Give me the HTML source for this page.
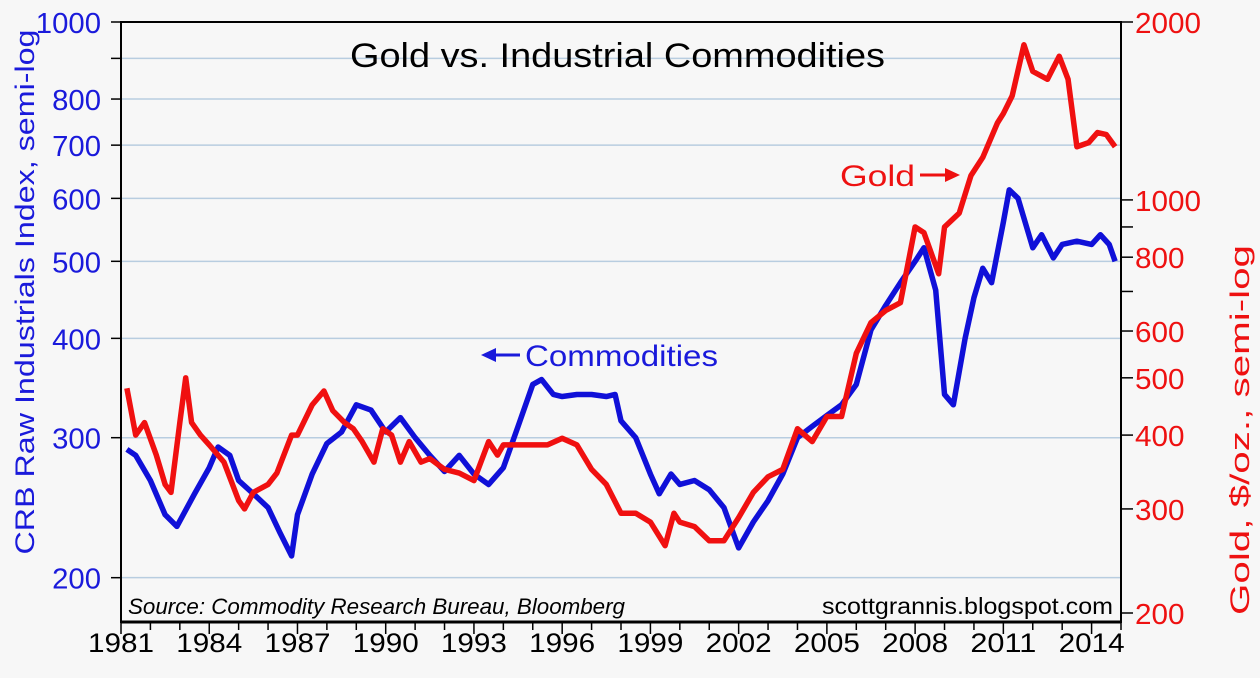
<!DOCTYPE html>
<html><head><meta charset="utf-8"><style>
html,body{margin:0;padding:0;background:#f7f7f7;}
svg{display:block;font-family:"Liberation Sans",sans-serif;}
</style></head><body>
<svg id="chart" width="1260" height="678" viewBox="0 0 1260 678">
<rect x="0" y="0" width="1260" height="678" fill="#f7f7f7"/>
<g id="grid"></g>
<g id="axes"></g>
<g id="series"></g>
<text x="350" y="67" font-size="34" textLength="535" lengthAdjust="spacingAndGlyphs" fill="#000">Gold vs. Industrial Commodities</text>
<text x="128" y="614" font-size="22" font-style="italic" textLength="497" lengthAdjust="spacingAndGlyphs" fill="#000">Source: Commodity Research Bureau, Bloomberg</text>
<text x="822" y="614" font-size="23" textLength="291" lengthAdjust="spacingAndGlyphs" fill="#000">scottgrannis.blogspot.com</text>
<text x="525" y="366" font-size="30" textLength="193" lengthAdjust="spacingAndGlyphs" fill="#1a1adb">Commodities</text>
<g><line x1="520" y1="355" x2="492" y2="355" stroke="#1a1adb" stroke-width="3"/><polygon points="481,355 496,348 496,362" fill="#1a1adb"/></g>
<text x="840" y="186" font-size="30" textLength="75" lengthAdjust="spacingAndGlyphs" fill="#ee1111">Gold</text>
<g><line x1="920" y1="175" x2="950" y2="175" stroke="#ee1111" stroke-width="3"/><polygon points="960,175 945,168 945,182" fill="#ee1111"/></g>
<text transform="translate(34,292) rotate(-90)" font-size="27" text-anchor="middle" textLength="525" lengthAdjust="spacingAndGlyphs" fill="#1a1adb">CRB Raw Industrials Index, semi-log</text>
<text transform="translate(1249,430) rotate(-90)" font-size="27" text-anchor="middle" textLength="370" lengthAdjust="spacingAndGlyphs" fill="#ee1111">Gold, $/oz., semi-log</text>
</svg>
<script>
const yearTicks=[1981,1984,1987,1990,1993,1996,1999,2002,2005,2008,2011,2014];
const leftTicks=[200,300,400,500,600,700,800,1000];
const leftGrid=[200,300,400,500,600,700,800,900];
const rightTicks=[200,300,400,500,600,800,1000,2000];
const rightMinor=[200,300,400,500,600,700,800,900,1000,2000];
const commYears=[1981.2,1981.5,1982,1982.5,1982.9,1983.5,1984,1984.3,1984.7,1985,1985.5,1986,1986.4,1986.8,1987,1987.5,1988,1988.5,1989,1989.5,1990,1990.5,1991,1991.5,1992,1992.5,1993,1993.5,1994,1994.5,1995,1995.3,1995.7,1996,1996.5,1997,1997.5,1997.8,1998,1998.5,1999,1999.3,1999.7,2000,2000.5,2001,2001.5,2002,2002.5,2003,2003.5,2004,2004.5,2005,2005.5,2006,2006.5,2007,2007.5,2008,2008.3,2008.7,2009,2009.3,2009.7,2010,2010.3,2010.6,2011,2011.2,2011.5,2012,2012.3,2012.7,2013,2013.5,2014,2014.3,2014.6,2014.8];
const commValues=[290,285,265,240,232,255,275,292,285,265,255,245,228,213,240,270,295,305,330,325,305,318,300,285,272,285,270,262,275,310,350,355,340,338,340,340,338,340,315,300,270,255,270,262,265,258,245,218,235,250,270,300,310,320,330,350,410,440,470,500,520,460,340,330,400,450,490,470,560,615,600,520,540,505,525,530,525,540,525,500];
const goldYears=[1981.2,1981.5,1981.8,1982.2,1982.5,1982.7,1983,1983.2,1983.4,1983.7,1984,1984.5,1985,1985.2,1985.5,1986,1986.3,1986.8,1987,1987.5,1987.9,1988.2,1988.6,1988.9,1989.2,1989.6,1989.9,1990.2,1990.5,1990.8,1991.2,1991.5,1992,1992.5,1993,1993.5,1993.8,1994,1994.5,1995,1995.5,1996,1996.5,1997,1997.5,1998,1998.5,1999,1999.5,1999.8,2000,2000.5,2001,2001.5,2002,2002.5,2003,2003.5,2004,2004.5,2005,2005.5,2006,2006.5,2007,2007.5,2008,2008.3,2008.8,2009,2009.5,2009.9,2010.3,2010.8,2011,2011.3,2011.7,2012,2012.5,2012.9,2013.2,2013.5,2013.9,2014.2,2014.5,2014.8];
const goldValues=[480,400,420,370,330,320,420,500,420,400,385,360,310,300,320,330,345,400,400,450,475,440,420,410,390,360,410,400,360,390,360,365,350,345,335,390,370,385,385,385,385,395,385,350,330,295,295,285,260,295,285,280,265,265,290,320,340,350,410,390,430,430,550,620,650,670,900,880,750,900,950,1100,1180,1350,1400,1500,1830,1650,1600,1750,1600,1230,1250,1300,1290,1230];

const NS="http://www.w3.org/2000/svg";
const L=121,R=1121,T=22,B=622;
function x(yr){return L+(yr-1981)*(R-L)/34;}
function yL(v){return 22+795*Math.log10(1000/v);}
function yR(v){return 22+591*Math.log10(2000/v);}
function mk(tag,attrs,parent){const e=document.createElementNS(NS,tag);for(const k in attrs)e.setAttribute(k,attrs[k]);parent.appendChild(e);return e;}
const grid=document.getElementById('grid'),axes=document.getElementById('axes'),series=document.getElementById('series');
leftGrid.forEach(v=>{
  const g=mk('line',{x1:L,x2:R,y1:yL(v),y2:yL(v),stroke:'#b8cde0','stroke-width':1.5},grid);
  
  
  const t=mk('line',{x1:L-10,x2:L,y1:yL(v),y2:yL(v),stroke:'#000','stroke-width':1.5},axes);
  
  
});
mk('line',{x1:L-10,x2:L,y1:yL(1000),y2:yL(1000),stroke:'#000','stroke-width':1.5},axes);
leftTicks.forEach(v=>{
  const s=String(v);
  const t=mk('text',{x:101-s.length*16.3,y:yL(v)+11,'font-size':29,textLength:s.length*16.3,lengthAdjust:'spacingAndGlyphs',fill:'#1a1adb'},axes);
  t.textContent=s;
  
  
});
rightMinor.forEach(v=>{
  const t=mk('line',{x1:R,x2:R+12,y1:yR(v),y2:yR(v),stroke:'#000','stroke-width':1.5},axes);
  
  
});
rightTicks.forEach(v=>{
  const s=String(v);
  const t=mk('text',{x:1135,y:yR(v)+11,'font-size':29,textLength:s.length*16.5,lengthAdjust:'spacingAndGlyphs',fill:'#ee1111'},axes);
  t.textContent=s;
  
  
});
for(let yr=1981;yr<=2015;yr++){
  const t=mk('line',{x1:x(yr),x2:x(yr),y1:B,y2:B+(yearTicks.includes(yr)?12:8),stroke:'#000','stroke-width':1.5},axes);
  
  
}
yearTicks.forEach(yr=>{
  const t=mk('text',{x:x(yr),y:652,'font-size':27,'text-anchor':'middle',textLength:66,lengthAdjust:'spacingAndGlyphs',fill:'#000'},axes);
  t.textContent=yr;
  
  
});
const frame=mk('path',{d:`M${L},${B}V${T}H${R}V${B}Z`,fill:'none',stroke:'#000','stroke-width':2},axes);


const bx=mk('line',{x1:L,x2:R,y1:B,y2:B,stroke:'#000','stroke-width':3},axes);


const cl=mk('polyline',{points:commYears.map((yr,i)=>x(yr)+','+yL(commValues[i])).join(' '),fill:'none',stroke:'#1010d8','stroke-width':5.5,'stroke-linejoin':'round'},series);


const gl=mk('polyline',{points:goldYears.map((yr,i)=>x(yr)+','+yR(goldValues[i])).join(' '),fill:'none',stroke:'#f01010','stroke-width':5.5,'stroke-linejoin':'round'},series);


</script>
</body></html>
